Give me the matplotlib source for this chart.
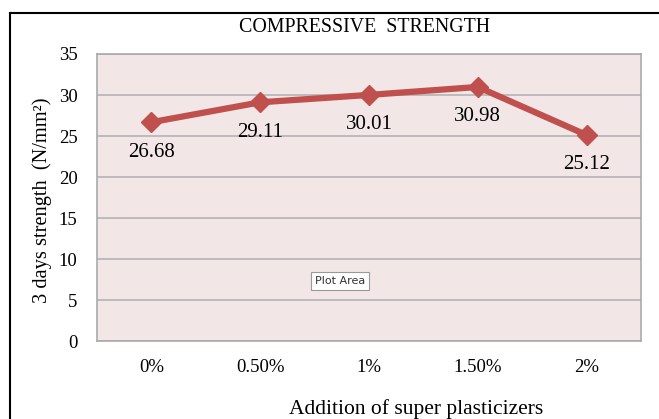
import matplotlib
matplotlib.use("Agg")
import matplotlib.pyplot as plt
from matplotlib.lines import Line2D

categories = ["0%", "0.50%", "1%", "1.50%", "2%"]
values = [26.68, 29.11, 30.01, 30.98, 25.12]
value_labels = ["26.68", "29.11", "30.01", "30.98", "25.12"]
yticks = [0, 5, 10, 15, 20, 25, 30, 35]

plt.rcParams['font.family'] = ['Liberation Serif', 'DejaVu Serif']

W, H = 659, 419
fig = plt.figure(figsize=(W/100, H/100), dpi=100)
ax = fig.add_axes([97/W, 1-341/H, (641-97)/W, (341-54)/H])

ax.set_facecolor('#F2E6E6')
x = list(range(len(categories)))
ax.plot(x, values, color='#C0504D', lw=4.5, marker='D', markersize=10, zorder=3)
for xi, v, lab in zip(x, values, value_labels):
    ax.annotate(lab, (xi, v), xytext=(0, -21.5), textcoords='offset points',
                ha='center', va='center', fontsize=15, color='black')

ax.set_xlim(-0.5, len(categories)-0.5)
ax.set_ylim(0, 35)
ax.set_yticks(yticks)
ax.set_yticklabels([str(t) for t in yticks], fontsize=13.5)
ax.set_xticks(x)
ax.set_xticklabels(categories, fontsize=13.5)
ax.tick_params(axis='both', length=0)
ax.tick_params(axis='y', pad=14)
ax.tick_params(axis='x', pad=13)
ax.grid(axis='y', color='#B3B3B3', lw=1.2)
ax.set_axisbelow(True)
for s in ax.spines.values():
    s.set_color('#AAAAAA')
    s.set_linewidth(1.2)

ax.set_ylabel('3 days strength  (N/mm²)', fontsize=14.7)
ax.yaxis.set_label_coords((42-97)/(641-97), (341-200)/(341-54), transform=ax.transAxes)
ax.yaxis.label.set_va('center')
ax.set_xlabel('Addition of super plasticizers', fontsize=15.5)
ax.xaxis.set_label_coords((416-97)/(641-97), -(409-341)/(341-54), transform=ax.transAxes)
ax.xaxis.label.set_va('center')

fig.text(365/W, 1-28/H, 'COMPRESSIVE  STRENGTH', ha='center', va='center', fontsize=14.3)

ax.text(340/W, 1-281/H, 'Plot Area', transform=fig.transFigure, ha='center', va='center',
        fontsize=8, family='DejaVu Sans', color='#333333',
        bbox=dict(boxstyle='square,pad=0.35', facecolor='white', edgecolor='#999999', lw=0.8))

# outer chart frame
fig.add_artist(Line2D([9.5/W, 9.5/W], [0, 1-13/H], transform=fig.transFigure, color='black', lw=1.5))
fig.add_artist(Line2D([9.5/W, 1], [1-13/H, 1-13/H], transform=fig.transFigure, color='black', lw=1.5))

fig.savefig('out.png', dpi=100)
